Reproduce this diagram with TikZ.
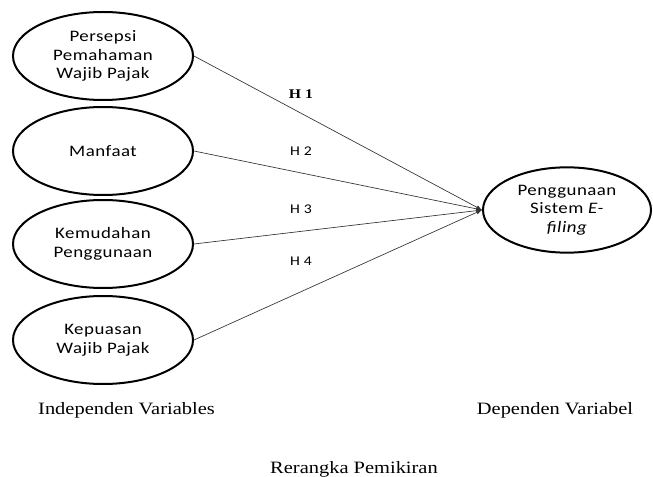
\documentclass[tikz,border=0pt]{standalone}
\usepackage{fontspec}
\setmainfont[FakeStretch=1.18]{Liberation Serif}
\newfontfamily\calibri[FakeStretch=1.18, LetterSpace=3]{Carlito}
\usetikzlibrary{shapes.geometric}

\tikzset{
	varbox/.style = {draw, ellipse, line width = 1.5pt, minimum width = 135pt, minimum height = 66pt, inner sep = 0pt, align = center, font = \calibri\fontsize{12}{14}\selectfont},
	hyp/.style = {anchor = base, font = \calibri\fontsize{10}{12}\selectfont},
	captext/.style = {anchor = base, font = \fontsize{13}{15}\selectfont}
}

\begin{document}
\begin{tikzpicture}[> = latex, x = 0.75pt, y = -0.75pt]

	\useasboundingbox (0, 0) rectangle (653, 477);

	% Independen variables
	
	\node [varbox] (persepsi) at (103, 56) {Persepsi\\Pemahaman\\Wajib Pajak};
	\node [varbox] (manfaat) at (103, 151) {Manfaat};
	\node [varbox] (kemudahan) at (103, 244) {Kemudahan\\Penggunaan};
	\node [varbox] (kepuasan) at (103, 340) {Kepuasan\\Wajib Pajak};
	
	% Dependen variable
	
	\node [varbox, minimum width = 126pt, minimum height = 64pt] (efiling) at (567, 210) {Penggunaan\\Sistem \textit{E-}\\\textit{filing}};
	
	% Hypotheses
	
	\draw [->, black!80, line width = 0.5pt] (persepsi.east) -- (efiling.west);
	\draw [->, black!80, line width = 0.5pt] (manfaat.east) -- (efiling.west);
	\draw [->, black!80, line width = 0.5pt] (kemudahan.east) -- (efiling.west);
	\draw [->, black!80, line width = 0.5pt] (kepuasan.east) -- (efiling.west);
	
	\node [hyp, font = \bfseries\fontsize{10}{12}\selectfont] (h1) at (301, 99) {H 1};
	\node [hyp] (h2) at (301, 156) {H 2};
	\node [hyp] (h3) at (301, 214) {H 3};
	\node [hyp] (h4) at (301, 266) {H 4};
	
	% Captions
	
	\node [captext] (indep) at (126.5, 414) {Independen Variables};
	\node [captext] (dep) at (555, 414) {Dependen Variabel};
	\node [captext] (title) at (354, 473) {Rerangka Pemikiran};

\end{tikzpicture}
\end{document}
